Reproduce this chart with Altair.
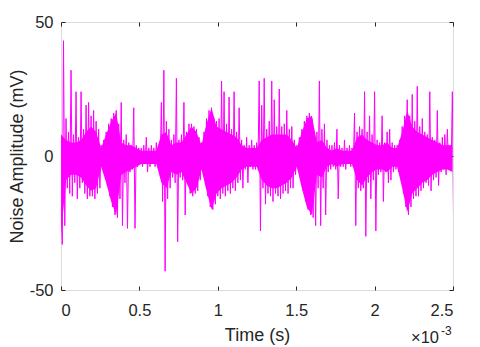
import altair as alt
import pandas as pd

# Noise trace, in mV.
# TOPS / BOTTOMS: upper and lower excursion of every sample slot (spikes and texture).
SAMPLE_STEP = 1.6e-5  # seconds between successive sample slots

TOPS = [
    5, 43, 14, 9, 32, 8, 24, 7, 24, 10,
    19, 20, 15, 17, 13, 10, 4, 6, 9, 12,
    14, 16, 17, 12, 20, 6, 8, 5, 4, 18,
    4, 3, 3, 4, 7, 3, 4, 3, 5, 4,
    20, 32, 13, 10, 6, 8, 29, 6, 8, 20,
    9, 12, 12, 11, 10, 7, 5, 9, 14, 17,
    18, 14, 13, 14, 28, 24, 12, 22, 10, 24,
    9, 18, 6, 4, 7, 4, 6, 4, 5, 28,
    19, 29, 10, 13, 28, 21, 11, 25, 11, 12,
    17, 10, 11, 6, 4, 7, 10, 13, 15, 16,
    14, 8, 9, 28, 10, 12, 6, 4, 4, 5,
    10, 4, 3, 6, 3, 4, 3, 16, 9, 11,
    10, 24, 9, 15, 8, 24, 6, 5, 15, 5,
    9, 10, 5, 4, 4, 6, 11, 15, 21, 15,
    23, 13, 26, 11, 14, 9, 8, 24, 7, 6,
    17, 5, 7, 8, 10, 4, 24,
]

BOTTOMS = [
    -33, -26, -12, -14, -15, -10, -16, -12, -10, -14,
    -16, -15, -15, -16, -14, -12, -5, -7, -11, -15,
    -19, -22, -23, -16, -26, -10, -27, -6, -5, -27,
    -4, -3, -4, -3, -6, -4, -3, -4, -3, -5,
    -17, -43, -16, -12, -8, -10, -32, -8, -9, -22,
    -10, -14, -15, -14, -13, -9, -6, -9, -15, -19,
    -20, -18, -15, -16, -14, -15, -13, -14, -12, -13,
    -10, -9, -12, -5, -10, -4, -5, -5, -4, -28,
    -12, -18, -14, -15, -17, -14, -15, -16, -14, -13,
    -14, -12, -12, -7, -5, -8, -13, -17, -20, -22,
    -23, -26, -12, -26, -12, -22, -6, -5, -4, -5,
    -16, -4, -4, -5, -3, -4, -4, -26, -12, -13,
    -12, -30, -10, -16, -9, -28, -7, -6, -17, -6,
    -10, -9, -6, -5, -6, -7, -14, -19, -22, -19,
    -16, -15, -15, -13, -12, -10, -11, -13, -9, -8,
    -11, -6, -5, -7, -5, -5, -28,
]

# Dense (solid) core of the trace, one slot every CORE_STEP seconds.
CORE_STEP = 3.2e-5
CORE_HI = [
    8, 6, 5, 5, 6, 9, 11, 9, 3, 8,
    13, 16, 5, 4, 4, 3, 2, 2, 2, 2,
    8, 9, 4, 5, 5, 8, 11, 9, 4, 12,
    18, 11, 10, 9, 8, 7, 4, 3, 3, 3,
    6, 7, 8, 8, 8, 8, 6, 3, 9, 14,
    15, 5, 6, 3, 2, 3, 2, 2, 2, 7,
    8, 6, 5, 4, 4, 5, 3, 3, 9, 17,
    11, 9, 8, 7, 6, 5, 4, 4, 4,
]
CORE_LO = [
    -30, -9, -7, -7, -8, -11, -13, -12, -4, -10,
    -17, -22, -7, -6, -5, -4, -3, -3, -3, -3,
    -10, -12, -6, -7, -6, -10, -14, -12, -5, -13,
    -20, -14, -12, -11, -10, -8, -5, -4, -4, -4,
    -9, -11, -12, -12, -11, -10, -8, -4, -12, -19,
    -22, -7, -8, -4, -3, -4, -3, -3, -3, -9,
    -11, -8, -6, -5, -5, -6, -4, -4, -12, -21,
    -14, -12, -10, -9, -7, -6, -5, -5, -6,
]

X_TICKS = [0, 0.0005, 0.001, 0.0015, 0.002, 0.0025]
Y_TICKS = [-50, 0, 50]

rows = []
for i, (hi, lo) in enumerate(zip(TOPS, BOTTOMS)):
    rows.append({"t": i * SAMPLE_STEP, "v": hi})
    rows.append({"t": (i + 0.5) * SAMPLE_STEP, "v": lo})
df = pd.DataFrame(rows)

core = pd.DataFrame({
    "t": [j * CORE_STEP for j in range(len(CORE_HI))],
    "hi": CORE_HI,
    "lo": CORE_LO,
})

FONT = "Liberation Sans"
INK = "#262626"
MAGENTA = "#FF00FF"

x_axis = alt.Axis(
    values=X_TICKS,
    labelExpr="format(datum.value * 1000, '.2~f')",
    title="Time (s)",
    grid=True, gridDash=[4, 260, 4, 0], gridColor=INK, gridOpacity=1, gridWidth=1,
    ticks=False, domain=False,
    labelFont=FONT, labelFontSize=16.5, labelColor=INK, labelPadding=12,
    titleFont=FONT, titleFontSize=18, titleFontWeight="normal", titleColor=INK,
    titleX=196, titleY=50, titleBaseline="alphabetic", titleAlign="center",
)
y_axis = alt.Axis(
    values=Y_TICKS,
    labelExpr="'' + datum.value",
    title="Noise Amplitude (mV)",
    grid=True, gridDash=[4, 384, 4, 0], gridColor=INK, gridOpacity=1, gridWidth=1,
    ticks=False, domain=False,
    labelFont=FONT, labelFontSize=16.5, labelColor=INK, labelPadding=8,
    titleFont=FONT, titleFontSize=18, titleFontWeight="normal", titleColor=INK,
    titleX=-39, titleY=134, titleAngle=270, titleBaseline="alphabetic", titleAlign="center",
)

xs = alt.Scale(domain=[0, 0.0025], nice=False, zero=False)
ys = alt.Scale(domain=[-50, 50], nice=False)

band = alt.Chart(core).mark_area(color=MAGENTA, opacity=1, clip=True).encode(
    x=alt.X("t:Q", scale=xs, axis=x_axis),
    y=alt.Y("hi:Q", scale=ys, axis=y_axis),
    y2="lo:Q",
)

line = alt.Chart(df).mark_line(color=MAGENTA, strokeWidth=1, clip=True).encode(
    x=alt.X("t:Q", scale=xs),
    y=alt.Y("v:Q", scale=ys),
)

exp_base = alt.Chart(pd.DataFrame({"s": ["\u00d710"]})).mark_text(
    align="right", baseline="alphabetic", font=FONT, fontSize=16.5, color=INK
).encode(x=alt.value(378), y=alt.value(321), text="s:N")

exp_sup = alt.Chart(pd.DataFrame({"s": ["-3"]})).mark_text(
    align="left", baseline="alphabetic", font=FONT, fontSize=12, color=INK
).encode(x=alt.value(380), y=alt.value(313), text="s:N")

chart = alt.layer(band, line, exp_base, exp_sup).properties(
    width=392,
    height=268,
    autosize=alt.AutoSizeParams(type="none"),
    padding={"left": 53, "top": 14, "right": 19, "bottom": 57},
).configure_view(stroke=INK, strokeWidth=1).configure(background="white")

chart.save("out.html", embed_options={"renderer": "svg", "actions": False})
